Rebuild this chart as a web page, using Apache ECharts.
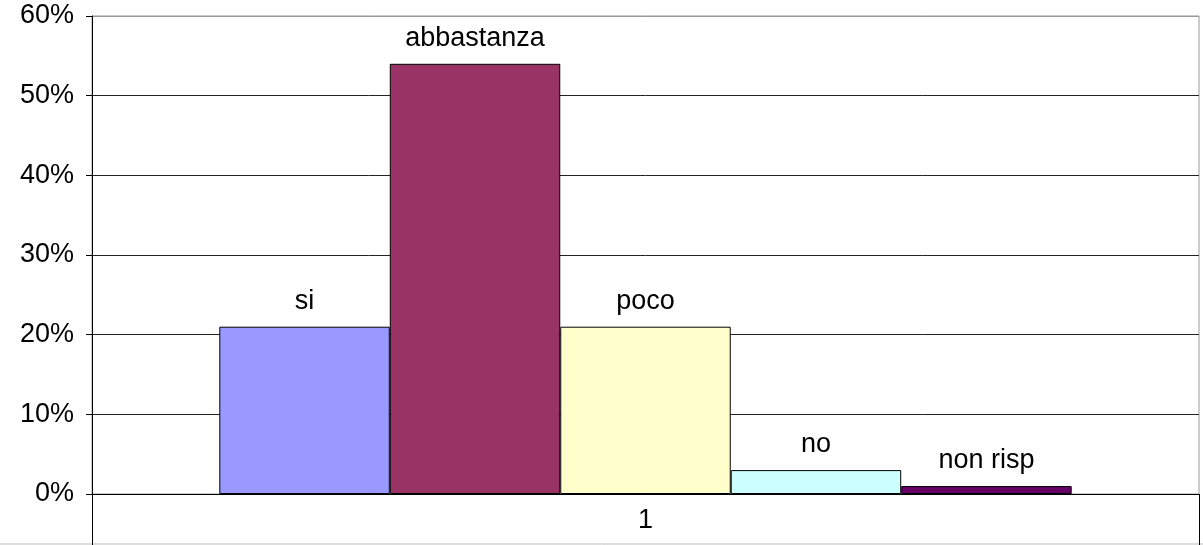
<!DOCTYPE html>
<html>
<head>
<meta charset="utf-8">
<script src="https://cdn.jsdelivr.net/npm/echarts@6/dist/echarts.min.js"></script>
<style>
  html, body { margin: 0; padding: 0; background: #fff; }
  #chart { width: 1203px; height: 545px; }
</style>
</head>
<body>
<div id="chart"></div>
<script>
// dati
var categories = ["1"];
var seriesNames = ["si", "abbastanza", "poco", "no", "non risp"];
var values = [21, 54, 21, 3, 1];
var barColors = ["#9999FF", "#993366", "#FFFFCC", "#CCFFFF", "#660066"];
var yTicks = { min: 0, max: 60, interval: 10 };

var font = "'Liberation Sans', Arial, sans-serif";

var chart = echarts.init(document.getElementById("chart"));

var series = seriesNames.map(function (name, i) {
  return {
    name: name,
    type: "bar",
    data: [values[i]],
    barGap: 0,
    barCategoryGap: "23%",
    itemStyle: { color: barColors[i], borderColor: "#000", borderWidth: 1 },
    label: {
      show: true,
      position: "top",
      distance: 12,
      formatter: "{a}",
      color: "#000",
      fontSize: 27,
      fontFamily: font
    },
    emphasis: { disabled: true },
    animation: false
  };
});

chart.setOption({
  animation: false,
  backgroundColor: "#fff",
  grid: {
    left: 92,
    right: 4,
    top: 16,
    bottom: 51,
    show: true,
    borderColor: "#999",
    borderWidth: 1,
    backgroundColor: "transparent"
  },
  xAxis: {
    type: "category",
    data: categories,
    axisLine: { lineStyle: { color: "#000", width: 1 } },
    axisTick: { show: true, length: 51, lineStyle: { color: "#000" } },
    axisLabel: { color: "#000", fontSize: 27, fontFamily: font, margin: 13 },
    splitLine: { show: false }
  },
  yAxis: {
    type: "value",
    min: yTicks.min,
    max: yTicks.max,
    interval: yTicks.interval,
    axisLine: { show: true, lineStyle: { color: "#000", width: 1 } },
    axisTick: { show: true, length: 6, lineStyle: { color: "#000" } },
    axisLabel: {
      formatter: "{value}%",
      color: "#000",
      fontSize: 27,
      fontFamily: font,
      margin: 18
    },
    splitLine: {
      show: true,
      lineStyle: { color: ["#000", "#222", "#222", "#222", "#222", "#222", "#999"], width: 1 }
    }
  },
  tooltip: { show: false },
  legend: { show: false },
  graphic: [{
    // bordo inferiore dell'area del grafico
    type: "line",
    shape: { x1: 0, y1: 544, x2: 1203, y2: 544 },
    style: { stroke: "#bbb", lineWidth: 1 },
    silent: true
  }],
  series: series
});
</script>
</body>
</html>
